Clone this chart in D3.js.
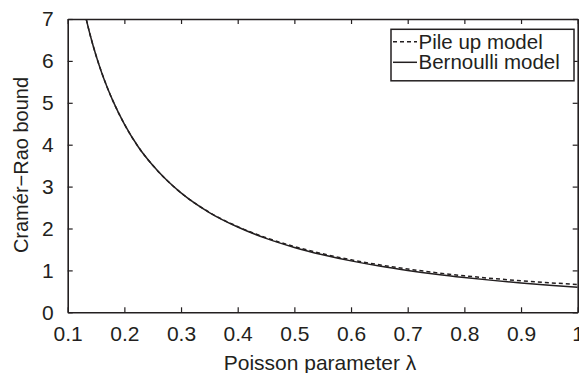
<!DOCTYPE html>
<html>
<head>
<meta charset="utf-8">
<script src="https://cdn.jsdelivr.net/npm/d3@7"></script>
<style>
  body { margin: 0; background: #fff; }
  svg { display: block; font-family: "Liberation Sans", Arial, sans-serif; }
</style>
</head>
<body>
<svg id="chart" width="579" height="373"></svg>
<script>
// values
const lambda = [0.13, 0.14, 0.15, 0.16, 0.17, 0.18, 0.2, 0.225, 0.25, 0.275, 0.3, 0.35,
  0.4, 0.45, 0.5, 0.55, 0.6, 0.65, 0.7, 0.75, 0.8, 0.85, 0.9, 0.95, 1.0];
const bernoulli = [7.15, 6.60, 6.13, 5.72, 5.36, 5.04, 4.49, 3.94, 3.51, 3.15, 2.85, 2.38,
  2.035, 1.764, 1.548, 1.373, 1.227, 1.104, 1.0, 0.909, 0.831, 0.762, 0.702, 0.648, 0.60];
const pileUp = [7.15, 6.60, 6.13, 5.72, 5.36, 5.04, 4.49, 3.94, 3.51, 3.15, 2.85, 2.385,
  2.045, 1.779, 1.568, 1.396, 1.253, 1.134, 1.033, 0.946, 0.871, 0.807, 0.752, 0.705, 0.665];
const xTicks = [0.1, 0.2, 0.3, 0.4, 0.5, 0.6, 0.7, 0.8, 0.9, 1];
const yTicks = [0, 1, 2, 3, 4, 5, 6, 7];
const legendNames = ["Pile up model", "Bernoulli model"];

const ink = "#231f20";
const svg = d3.select("#chart");
const m = { left: 67.7, right: 577.7, top: 19, bottom: 312.3 };

const x = d3.scaleLinear().domain([0.1, 1]).range([m.left, m.right]);
const y = d3.scaleLinear().domain([0, 7]).range([m.bottom, m.top]);

svg.append("defs").append("clipPath").attr("id", "plot")
  .append("rect")
  .attr("x", m.left).attr("y", m.top)
  .attr("width", m.right - m.left).attr("height", m.bottom - m.top);

// curves
const line = d3.line()
  .x((d, i) => x(lambda[i]))
  .y(d => y(d))
  .curve(d3.curveMonotoneX);

const curves = svg.append("g").attr("clip-path", "url(#plot)");
curves.append("path")
  .attr("d", line(bernoulli))
  .attr("fill", "none").attr("stroke", ink).attr("stroke-width", 1.5);
curves.append("path")
  .attr("d", line(pileUp))
  .attr("fill", "none").attr("stroke", ink).attr("stroke-width", 1.5)
  .attr("stroke-dasharray", "4,3");

// axes, ticks pointing inward on all four sides
const fmt = d => d === 1 ? "1" : d3.format(".1f")(d);
const gx = svg.append("g").attr("transform", `translate(0,${m.bottom})`)
  .call(d3.axisBottom(x).tickValues(xTicks).tickFormat(fmt).tickSizeInner(-5).tickSizeOuter(0).tickPadding(14));
const gxTop = svg.append("g").attr("transform", `translate(0,${m.top})`)
  .call(d3.axisTop(x).tickValues(xTicks).tickFormat("").tickSizeInner(-5).tickSizeOuter(0));
const gy = svg.append("g").attr("transform", `translate(${m.left},0)`)
  .call(d3.axisLeft(y).tickValues(yTicks).tickFormat(d3.format("d")).tickSizeInner(-5).tickSizeOuter(0).tickPadding(14));
const gyRight = svg.append("g").attr("transform", `translate(${m.right},0)`)
  .call(d3.axisRight(y).tickValues(yTicks).tickFormat("").tickSizeInner(-5).tickSizeOuter(0));

[gx, gxTop, gy, gyRight].forEach(g => {
  g.select(".domain").attr("stroke", ink).attr("stroke-width", 1.6);
  g.selectAll(".tick line").attr("stroke", ink).attr("stroke-width", 1.2);
  g.selectAll(".tick text").attr("fill", ink).style("font-size", "21px");
});
gx.selectAll(".tick text").attr("dy", "0.71em");

// axis titles
svg.append("text")
  .attr("x", 320).attr("y", 370)
  .attr("text-anchor", "middle")
  .attr("fill", ink).style("font-size", "21px")
  .text("Poisson parameter λ");
svg.append("text")
  .attr("transform", "translate(28,165) rotate(-90)")
  .attr("text-anchor", "middle")
  .attr("fill", ink).style("font-size", "20px")
  .text("Cramér−Rao bound");

// legend
const lg = svg.append("g");
lg.append("rect")
  .attr("x", 391).attr("y", 29.3).attr("width", 183).attr("height", 51.5)
  .attr("fill", "#fff").attr("stroke", ink).attr("stroke-width", 1.5);
legendNames.forEach((name, i) => {
  const ly = 41.7 + i * 20.6;
  lg.append("line")
    .attr("x1", 393).attr("x2", 417).attr("y1", ly).attr("y2", ly)
    .attr("stroke", ink).attr("stroke-width", 1.5)
    .attr("stroke-dasharray", i === 0 ? "4,3" : null);
  lg.append("text")
    .attr("x", 418.5).attr("y", ly + 7)
    .attr("fill", ink).style("font-size", "20.5px")
    .text(name);
});
</script>
</body>
</html>
